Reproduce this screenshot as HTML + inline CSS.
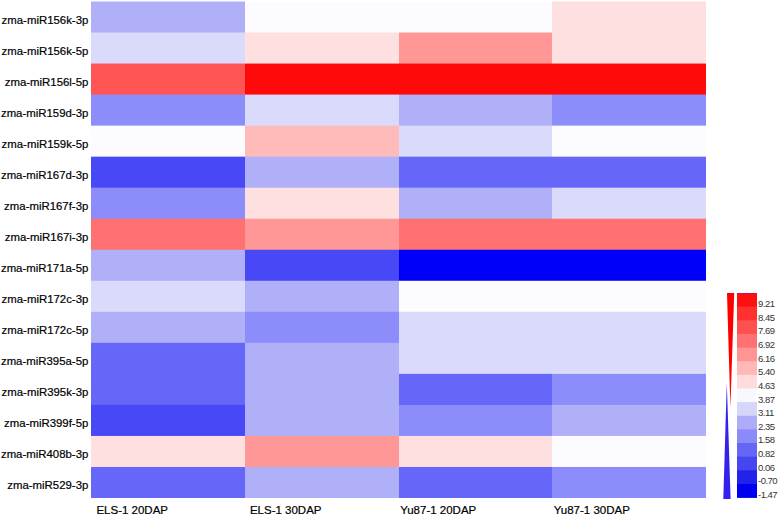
<!DOCTYPE html>
<html><head><meta charset="utf-8"><style>
html,body{margin:0;padding:0;background:#fff;}
body{width:778px;height:517px;position:relative;overflow:hidden;font-family:"Liberation Sans",sans-serif;}
.rl{position:absolute;right:689.7px;font-size:11.4px;color:#000;-webkit-text-stroke:0.2px #000;white-space:nowrap;line-height:1;}
.cl{position:absolute;top:505px;font-size:11.5px;color:#000;-webkit-text-stroke:0.2px #000;white-space:nowrap;line-height:1;}
.ll{position:absolute;left:758px;font-size:9.5px;color:#333;white-space:nowrap;line-height:1;letter-spacing:-0.5px;}
svg{position:absolute;left:0;top:0;}
</style></head><body>

<svg width="778" height="517" viewBox="0 0 778 517">
<rect x="91" y="1.50" width="154" height="496.50" fill="#b0b0f8"/>
<rect x="245" y="1.50" width="154" height="496.50" fill="#fcfcff"/>
<rect x="399" y="1.50" width="153" height="496.50" fill="#fcfcff"/>
<rect x="552" y="1.50" width="154" height="496.50" fill="#ffe0e0"/>
<rect x="91" y="32.53" width="154" height="465.47" fill="#dadafa"/>
<rect x="245" y="32.53" width="154" height="465.47" fill="#ffe0e0"/>
<rect x="399" y="32.53" width="153" height="465.47" fill="#ff9797"/>
<rect x="552" y="32.53" width="154" height="465.47" fill="#ffe0e0"/>
<rect x="91" y="63.56" width="154" height="434.44" fill="#ff5555"/>
<rect x="245" y="63.56" width="154" height="434.44" fill="#ff0a0a"/>
<rect x="399" y="63.56" width="153" height="434.44" fill="#ff0a0a"/>
<rect x="552" y="63.56" width="154" height="434.44" fill="#ff0a0a"/>
<rect x="91" y="94.59" width="154" height="403.41" fill="#8c8cfa"/>
<rect x="245" y="94.59" width="154" height="403.41" fill="#dadafa"/>
<rect x="399" y="94.59" width="153" height="403.41" fill="#b0b0f8"/>
<rect x="552" y="94.59" width="154" height="403.41" fill="#8c8cfa"/>
<rect x="91" y="125.62" width="154" height="372.38" fill="#fcfcff"/>
<rect x="245" y="125.62" width="154" height="372.38" fill="#ffbaba"/>
<rect x="399" y="125.62" width="153" height="372.38" fill="#dadafa"/>
<rect x="552" y="125.62" width="154" height="372.38" fill="#fcfcff"/>
<rect x="91" y="156.66" width="154" height="341.34" fill="#4848f6"/>
<rect x="245" y="156.66" width="154" height="341.34" fill="#b0b0f8"/>
<rect x="399" y="156.66" width="153" height="341.34" fill="#6666f8"/>
<rect x="552" y="156.66" width="154" height="341.34" fill="#6666f8"/>
<rect x="91" y="187.69" width="154" height="310.31" fill="#8c8cfa"/>
<rect x="245" y="187.69" width="154" height="310.31" fill="#ffe0e0"/>
<rect x="399" y="187.69" width="153" height="310.31" fill="#b0b0f8"/>
<rect x="552" y="187.69" width="154" height="310.31" fill="#dadafa"/>
<rect x="91" y="218.72" width="154" height="279.28" fill="#ff7070"/>
<rect x="245" y="218.72" width="154" height="279.28" fill="#ff9797"/>
<rect x="399" y="218.72" width="153" height="279.28" fill="#ff7070"/>
<rect x="552" y="218.72" width="154" height="279.28" fill="#ff7070"/>
<rect x="91" y="249.75" width="154" height="248.25" fill="#b0b0f8"/>
<rect x="245" y="249.75" width="154" height="248.25" fill="#4848f6"/>
<rect x="399" y="249.75" width="153" height="248.25" fill="#0000fa"/>
<rect x="552" y="249.75" width="154" height="248.25" fill="#0000fa"/>
<rect x="91" y="280.78" width="154" height="217.22" fill="#dadafa"/>
<rect x="245" y="280.78" width="154" height="217.22" fill="#b0b0f8"/>
<rect x="399" y="280.78" width="153" height="217.22" fill="#fcfcff"/>
<rect x="552" y="280.78" width="154" height="217.22" fill="#fcfcff"/>
<rect x="91" y="311.81" width="154" height="186.19" fill="#b0b0f8"/>
<rect x="245" y="311.81" width="154" height="186.19" fill="#8c8cfa"/>
<rect x="399" y="311.81" width="153" height="186.19" fill="#dadafa"/>
<rect x="552" y="311.81" width="154" height="186.19" fill="#dadafa"/>
<rect x="91" y="342.84" width="154" height="155.16" fill="#6666f8"/>
<rect x="245" y="342.84" width="154" height="155.16" fill="#b0b0f8"/>
<rect x="399" y="342.84" width="153" height="155.16" fill="#dadafa"/>
<rect x="552" y="342.84" width="154" height="155.16" fill="#dadafa"/>
<rect x="91" y="373.88" width="154" height="124.12" fill="#6666f8"/>
<rect x="245" y="373.88" width="154" height="124.12" fill="#b0b0f8"/>
<rect x="399" y="373.88" width="153" height="124.12" fill="#6666f8"/>
<rect x="552" y="373.88" width="154" height="124.12" fill="#8c8cfa"/>
<rect x="91" y="404.91" width="154" height="93.09" fill="#4848f6"/>
<rect x="245" y="404.91" width="154" height="93.09" fill="#b0b0f8"/>
<rect x="399" y="404.91" width="153" height="93.09" fill="#8c8cfa"/>
<rect x="552" y="404.91" width="154" height="93.09" fill="#b0b0f8"/>
<rect x="91" y="435.94" width="154" height="62.06" fill="#ffe0e0"/>
<rect x="245" y="435.94" width="154" height="62.06" fill="#ff9797"/>
<rect x="399" y="435.94" width="153" height="62.06" fill="#ffe0e0"/>
<rect x="552" y="435.94" width="154" height="62.06" fill="#fcfcff"/>
<rect x="91" y="466.97" width="154" height="31.03" fill="#6666f8"/>
<rect x="245" y="466.97" width="154" height="31.03" fill="#b0b0f8"/>
<rect x="399" y="466.97" width="153" height="31.03" fill="#6666f8"/>
<rect x="552" y="466.97" width="154" height="31.03" fill="#8c8cfa"/>
<rect x="737" y="293.00" width="20" height="204.60" fill="#ff1010"/>
<rect x="737" y="306.64" width="20" height="190.96" fill="#ff3030"/>
<rect x="737" y="320.28" width="20" height="177.32" fill="#ff5050"/>
<rect x="737" y="333.92" width="20" height="163.68" fill="#ff7070"/>
<rect x="737" y="347.56" width="20" height="150.04" fill="#ff9494"/>
<rect x="737" y="361.20" width="20" height="136.40" fill="#ffb8b8"/>
<rect x="737" y="374.84" width="20" height="122.76" fill="#ffdcdc"/>
<rect x="737" y="388.48" width="20" height="109.12" fill="#f8f8fe"/>
<rect x="737" y="402.12" width="20" height="95.48" fill="#d6d6f8"/>
<rect x="737" y="415.76" width="20" height="81.84" fill="#acacf8"/>
<rect x="737" y="429.40" width="20" height="68.20" fill="#8a8af8"/>
<rect x="737" y="443.04" width="20" height="54.56" fill="#6666f4"/>
<rect x="737" y="456.68" width="20" height="40.92" fill="#4646f0"/>
<rect x="737" y="470.32" width="20" height="27.28" fill="#2222ea"/>
<rect x="737" y="483.96" width="20" height="13.64" fill="#0000f0"/>
<rect x="737" y="293" width="20" height="1" fill="#c41448"/>
</svg>
<svg width="778" height="517" viewBox="0 0 778 517">
<polygon points="727,293 734.2,293 730.4,408" fill="#ff0000"/>
<polygon points="726.8,383 723.3,499 730.6,499" fill="#3322ee"/>
</svg>
<div class="rl" style="top:14.60px">zma-miR156k-3p</div>
<div class="rl" style="top:45.60px">zma-miR156k-5p</div>
<div class="rl" style="top:76.60px">zma-miR156l-5p</div>
<div class="rl" style="top:107.60px">zma-miR159d-3p</div>
<div class="rl" style="top:138.60px">zma-miR159k-5p</div>
<div class="rl" style="top:169.60px">zma-miR167d-3p</div>
<div class="rl" style="top:200.60px">zma-miR167f-3p</div>
<div class="rl" style="top:231.60px">zma-miR167i-3p</div>
<div class="rl" style="top:262.60px">zma-miR171a-5p</div>
<div class="rl" style="top:293.60px">zma-miR172c-3p</div>
<div class="rl" style="top:324.60px">zma-miR172c-5p</div>
<div class="rl" style="top:355.60px">zma-miR395a-5p</div>
<div class="rl" style="top:386.60px">zma-miR395k-3p</div>
<div class="rl" style="top:417.60px">zma-miR399f-5p</div>
<div class="rl" style="top:448.60px">zma-miR408b-3p</div>
<div class="rl" style="top:479.60px">zma-miR529-3p</div>
<div class="cl" style="left:96.4px">ELS-1 20DAP</div>
<div class="cl" style="left:249.9px">ELS-1 30DAP</div>
<div class="cl" style="left:400.2px">Yu87-1 20DAP</div>
<div class="cl" style="left:553.8px">Yu87-1 30DAP</div>
<div class="ll" style="top:299.04px">9.21</div>
<div class="ll" style="top:312.68px">8.45</div>
<div class="ll" style="top:326.32px">7.69</div>
<div class="ll" style="top:339.96px">6.92</div>
<div class="ll" style="top:353.60px">6.16</div>
<div class="ll" style="top:367.24px">5.40</div>
<div class="ll" style="top:380.88px">4.63</div>
<div class="ll" style="top:394.52px">3.87</div>
<div class="ll" style="top:408.16px">3.11</div>
<div class="ll" style="top:421.80px">2.35</div>
<div class="ll" style="top:435.44px">1.58</div>
<div class="ll" style="top:449.08px">0.82</div>
<div class="ll" style="top:462.72px">0.06</div>
<div class="ll" style="top:476.36px">-0.70</div>
<div class="ll" style="top:490.00px">-1.47</div>
</body></html>
